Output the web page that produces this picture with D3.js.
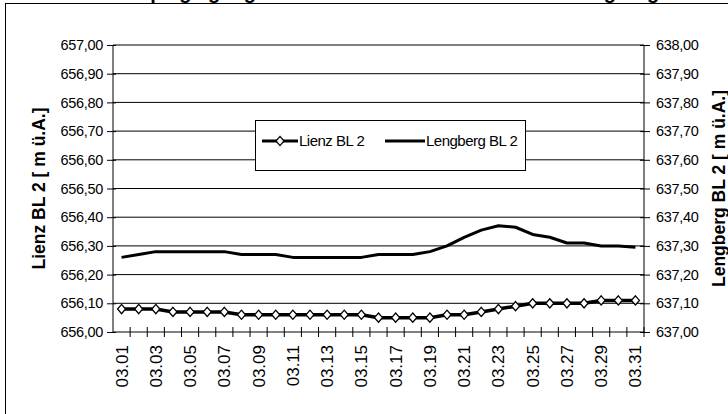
<!DOCTYPE html>
<html>
<head>
<meta charset="utf-8">
<script src="https://cdn.jsdelivr.net/npm/d3@7"></script>
<style>
  html, body { margin: 0; padding: 0; background: #fff; }
  svg { display: block; font-family: "Liberation Sans", Arial, sans-serif; }
</style>
</head>
<body>
<svg id="chart" width="728" height="414"></svg>
<script>
// ---------- data ----------
const titleText = "Wasserspiegelganglinien der Messstellen Lienz und Lengberg";
const categories = ["03.01","03.02","03.03","03.04","03.05","03.06","03.07","03.08","03.09","03.10",
  "03.11","03.12","03.13","03.14","03.15","03.16","03.17","03.18","03.19","03.20",
  "03.21","03.22","03.23","03.24","03.25","03.26","03.27","03.28","03.29","03.30","03.31"];
const lienz = [656.08,656.08,656.08,656.07,656.07,656.07,656.07,656.06,656.06,656.06,
  656.06,656.06,656.06,656.06,656.06,656.05,656.05,656.05,656.05,656.06,
  656.06,656.07,656.08,656.09,656.10,656.10,656.10,656.10,656.11,656.11,656.11];
const lengberg = [637.26,637.27,637.28,637.28,637.28,637.28,637.28,637.27,637.27,637.27,
  637.26,637.26,637.26,637.26,637.26,637.27,637.27,637.27,637.28,637.30,
  637.33,637.355,637.37,637.365,637.34,637.33,637.31,637.31,637.30,637.30,637.295];
const leftTicks = [656.0,656.1,656.2,656.3,656.4,656.5,656.6,656.7,656.8,656.9,657.0];
const rightTicks = [637.0,637.1,637.2,637.3,637.4,637.5,637.6,637.7,637.8,637.9,638.0];
const seriesNames = ["Lienz BL 2", "Lengberg BL 2"];
const leftTitle = "Lienz BL 2 [ m ü.A.]";
const rightTitle = "Lengberg BL 2 [ m ü.A.]";

// ---------- layout ----------
const W = 728, H = 414;
const plot = { left: 113, right: 644, top: 45, bottom: 332 };
const svg = d3.select("#chart");
svg.append("rect").attr("width", W).attr("height", H).attr("fill", "#fff");

// chart-area border
svg.append("rect").attr("x", 5.5).attr("y", 3.5).attr("width", 730).attr("height", 420)
  .attr("fill", "none").attr("stroke", "#000").attr("stroke-width", 1);

// title (mostly cut off at top, as in the reference)
svg.append("text").attr("x", W / 2).attr("y", -1).attr("text-anchor", "middle")
  .attr("font-size", 20).attr("font-weight", "bold").text(titleText);

const x = d3.scaleBand().domain(categories).range([plot.left, plot.right]).padding(0);
const yL = d3.scaleLinear().domain([656, 657]).range([plot.bottom, plot.top]);
const yR = d3.scaleLinear().domain([637, 638]).range([plot.bottom, plot.top]);
const cx = d => x(d) + x.bandwidth() / 2;
const fmt = v => d3.format(".2f")(v).replace(".", ",");

// gridlines
svg.append("g").selectAll("line").data(leftTicks.slice(1)).join("line")
  .attr("x1", plot.left).attr("x2", plot.right)
  .attr("y1", d => yL(d)).attr("y2", d => yL(d))
  .attr("stroke", "#000").attr("stroke-width", 1);

// left axis
const gL = svg.append("g").attr("transform", `translate(${plot.left},0)`)
  .call(d3.axisLeft(yL).tickValues(leftTicks).tickFormat(fmt).tickSize(6).tickPadding(4));
gL.select(".domain").attr("stroke", "#000").attr("d", `M0,${plot.top}V${plot.bottom}`);
gL.selectAll(".tick line").attr("x1", 3).attr("stroke", "#000");
gL.selectAll(".tick text").attr("font-size", 14.5).attr("fill", "#000")
  .attr("font-family", "Liberation Sans, Arial, sans-serif").attr("letter-spacing", -0.3);

// right axis
const gR = svg.append("g").attr("transform", `translate(${plot.right},0)`)
  .call(d3.axisRight(yR).tickValues(rightTicks).tickFormat(fmt).tickSize(6).tickPadding(6));
gR.select(".domain").attr("stroke", "#000").attr("d", `M0,${plot.top}V${plot.bottom}`);
gR.selectAll(".tick line").attr("x1", -4).attr("stroke", "#000");
gR.selectAll(".tick text").attr("font-size", 14.5).attr("fill", "#000")
  .attr("font-family", "Liberation Sans, Arial, sans-serif").attr("letter-spacing", -0.3);

// bottom axis
const gB = svg.append("g").attr("transform", `translate(0,${plot.bottom})`)
  .call(d3.axisBottom(x).tickSize(5).tickFormat((d, i) => i % 2 === 0 ? d : ""));
gB.select(".domain").attr("stroke", "#000").attr("d", `M${plot.left},0H${plot.right}`);
gB.selectAll(".tick line").attr("transform", `translate(${x.bandwidth() / 2},0)`)
  .attr("y1", -5).attr("stroke", "#000");
gB.selectAll(".tick text")
  .attr("font-size", 17).attr("fill", "#000")
  .attr("font-family", "Liberation Sans, Arial, sans-serif")
  .attr("text-anchor", "end")
  .attr("transform", "rotate(-90)")
  .attr("x", -13).attr("y", 0).attr("dy", "0.35em");

// axis titles
svg.append("text").attr("transform", `translate(45,${(plot.top + plot.bottom) / 2}) rotate(-90)`)
  .attr("text-anchor", "middle").attr("font-size", 17.5).attr("font-weight", "bold").text(leftTitle);
svg.append("text").attr("transform", `translate(725,${(plot.top + plot.bottom) / 2}) rotate(-90)`)
  .attr("text-anchor", "middle").attr("font-size", 17.5).attr("font-weight", "bold").text(rightTitle);

// lines
const lineL = d3.line().x((d, i) => cx(categories[i])).y(d => yL(d));
const lineR = d3.line().x((d, i) => cx(categories[i])).y(d => yR(d));
svg.append("path").datum(lengberg).attr("d", lineR).attr("fill", "none")
  .attr("stroke", "#000").attr("stroke-width", 3).attr("stroke-linejoin", "round");
svg.append("path").datum(lienz).attr("d", lineL).attr("fill", "none")
  .attr("stroke", "#000").attr("stroke-width", 3.5).attr("stroke-linejoin", "round");

const diamond = (px, py) => `M${px},${py - 4.6}L${px + 4},${py}L${px},${py + 4.6}L${px - 4},${py}Z`;
svg.append("g").selectAll("path").data(lienz).join("path")
  .attr("d", (d, i) => diamond(cx(categories[i]), yL(d)))
  .attr("fill", "#fff").attr("stroke", "#000").attr("stroke-width", 1.3);

// legend
const lg = svg.append("g");
lg.append("rect").attr("x", 255.5).attr("y", 120.5).attr("width", 270).attr("height", 50)
  .attr("fill", "#fff").attr("stroke", "#000").attr("stroke-width", 1);
const ly = 141;
lg.append("line").attr("x1", 262).attr("x2", 298).attr("y1", ly).attr("y2", ly)
  .attr("stroke", "#000").attr("stroke-width", 3);
lg.append("path").attr("d", diamond(280, ly)).attr("fill", "#fff").attr("stroke", "#000").attr("stroke-width", 1.3);
lg.append("text").attr("x", 299).attr("y", ly).attr("dy", "0.35em").attr("font-size", 15)
  .attr("letter-spacing", -0.5).text(seriesNames[0]);
lg.append("line").attr("x1", 385).attr("x2", 425).attr("y1", ly).attr("y2", ly)
  .attr("stroke", "#000").attr("stroke-width", 3);
lg.append("text").attr("x", 426).attr("y", ly).attr("dy", "0.35em").attr("font-size", 15)
  .attr("letter-spacing", -0.5).text(seriesNames[1]);
</script>
</body>
</html>
